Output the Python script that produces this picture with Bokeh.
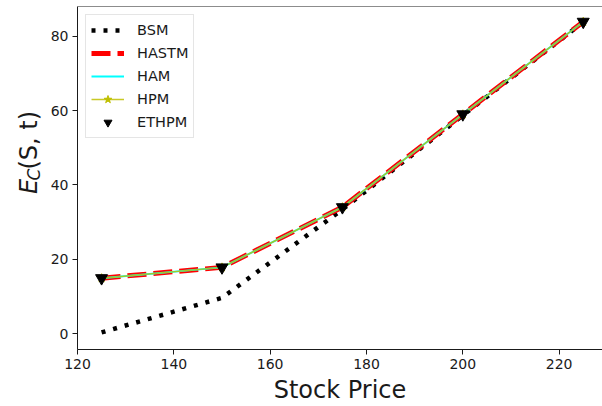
from math import pi

from bokeh.core.properties import value
from bokeh.embed import file_html
from bokeh.layouts import row
from bokeh.models import FixedTicker, Range1d, Span
from bokeh.plotting import figure
from bokeh.resources import INLINE

# Stock prices and option values for each method
stock_price = [125, 150, 175, 200, 225]
bsm = [0.3, 9.6, 33.4, 58.7, 83.8]
hastm = [14.9, 17.8, 34.0, 59.0, 83.9]
ham = [14.9, 17.8, 34.0, 59.0, 83.9]
hpm = [14.9, 17.8, 34.0, 59.0, 83.9]
ethpm = [14.9, 17.8, 34.0, 59.0, 83.9]

x_ticks = [120, 140, 160, 180, 200, 220]
y_ticks = [0, 20, 40, 60, 80]

FONT = "DejaVu Sans"
INK = "#1a1a1a"
LABEL_W = 46

p = figure(
    width=602 - LABEL_W,
    height=406,
    output_backend="svg",
    toolbar_location=None,
    x_range=Range1d(120, 229),
    y_range=Range1d(-4.3, 88.0),
    min_border_left=77 - LABEL_W,
    min_border_right=0,
    min_border_top=6,
    min_border_bottom=57,
)
p.outline_line_color = None
p.grid.visible = False
p.background_fill_color = "white"
p.border_fill_color = "white"

# top spine
p.add_layout(Span(location=88.0, dimension="width", line_color=INK, line_width=1))

for ax in (p.xaxis[0], p.yaxis[0]):
    ax.axis_line_color = INK
    ax.major_tick_line_color = INK
    ax.major_tick_out = 5
    ax.major_tick_in = 0
    ax.minor_tick_line_color = None
    ax.major_label_text_font = FONT
    ax.major_label_text_font_size = "14px"
    ax.major_label_text_color = INK
    ax.major_label_standoff = 4

p.xaxis.ticker = FixedTicker(ticks=x_ticks)
p.yaxis.ticker = FixedTicker(ticks=y_ticks)

p.xaxis.axis_label = "Stock Price"
p.xaxis.axis_label_text_font = FONT
p.xaxis.axis_label_text_font_size = "24px"
p.xaxis.axis_label_text_font_style = "normal"
p.xaxis.axis_label_text_color = INK
p.xaxis.axis_label_standoff = 4

# series
p.line(stock_price, bsm, line_color="black", line_width=4.5, line_dash="4 8",
       legend_label="BSM")
p.line(stock_price, hastm, line_color="red", line_width=5, line_dash="19 7",
       legend_label="HASTM")
p.line(stock_price, ham, line_color="cyan", line_width=2, legend_label="HAM")
p.line(stock_price, hpm, line_color="#bfbf00", line_width=1.5, line_alpha=0.85,
       legend_label="HPM")
p.scatter(stock_price, hpm, marker="star", size=9, fill_color="#bfbf00",
          line_color="#bfbf00", legend_label="HPM")
p.scatter(stock_price, ethpm, marker="inverted_triangle", size=12,
          fill_color="black", line_color="black", legend_label="ETHPM")

lg = p.legend[0]
lg.location = "top_left"
lg.margin = 8
lg.padding = 5
lg.spacing = 3
lg.glyph_width = 33
lg.glyph_height = 20
lg.label_height = 20
lg.label_standoff = 13
lg.label_text_font = FONT
lg.label_text_font_size = "14.5px"
lg.label_text_color = INK
lg.border_line_color = "#cccccc"
lg.border_line_width = 1
lg.background_fill_alpha = 0.8

# narrow strip holding the y-axis title E_C(S, t); pixel coordinates, y downwards
ylab = figure(
    width=LABEL_W,
    height=406,
    output_backend="svg",
    toolbar_location=None,
    x_range=Range1d(0, LABEL_W),
    y_range=Range1d(406, 0),
    min_border=0,
)
ylab.axis.visible = False
ylab.grid.visible = False
ylab.outline_line_color = None

bx, by = 28, 222
ylab.text(x=[bx], y=[by], text=["E"], angle=pi / 2, text_font=value(FONT),
          text_font_style="italic", text_font_size="24px", text_color=INK,
          text_baseline="alphabetic", text_align="left")
ylab.text(x=[bx + 5], y=[by - 16], text=["C"], angle=pi / 2, text_font=value(FONT),
          text_font_style="italic", text_font_size="17px", text_color=INK,
          text_baseline="alphabetic", text_align="left")
ylab.text(x=[bx], y=[by - 29], text=["(S, t)"], angle=pi / 2, text_font=value(FONT),
          text_font_size="24px", text_color=INK,
          text_baseline="alphabetic", text_align="left")

layout = row(ylab, p, spacing=0)
open("out.html", "w").write(file_html(layout, INLINE))
